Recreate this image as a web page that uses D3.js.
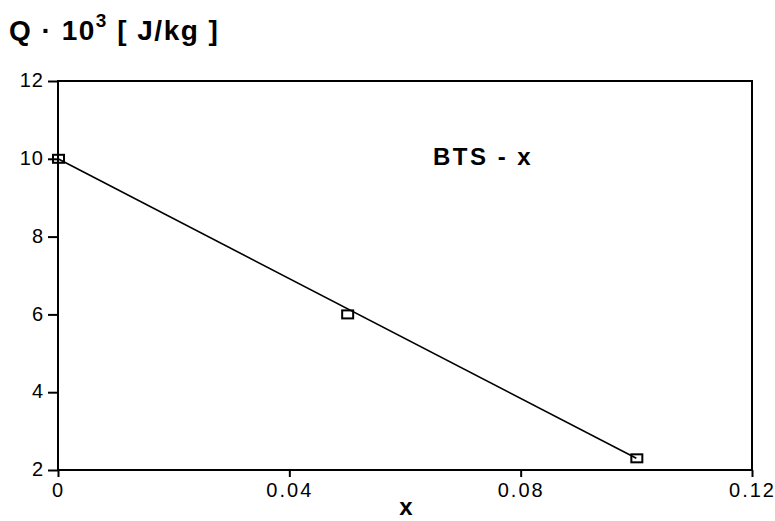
<!DOCTYPE html>
<html>
<head>
<meta charset="utf-8">
<script src="https://cdn.jsdelivr.net/npm/d3@7"></script>
<style>
  body { margin: 0; background: #fff; }
  text { font-family: "Liberation Sans", Arial, sans-serif; fill: #000; }
</style>
</head>
<body>
<svg id="chart" width="775" height="521"></svg>
<script>
'use strict';

// measured points
var xValues = [0, 0.05, 0.1];
var qValues = [10, 6, 2.3];

// straight fit line drawn through the points
var fitX = [0, 0.1];
var fitQ = [10, 2.3];

var xTicks = [0, 0.04, 0.08, 0.12];
var yTicks = [2, 4, 6, 8, 10, 12];

var svg = d3.select('#chart');

var plotLeft = 58, plotRight = 752, plotTop = 81, plotBottom = 470;

var x = d3.scaleLinear().domain([0, 0.12]).range([plotLeft, plotRight]);
var y = d3.scaleLinear().domain([2, 12]).range([plotBottom, plotTop]);

//Frame
svg.append('rect')
  .attr('x', plotLeft).attr('y', plotTop)
  .attr('width', plotRight - plotLeft).attr('height', plotBottom - plotTop)
  .attr('fill', 'none').attr('stroke', '#000').attr('stroke-width', 2);

//Axes
var xAxis = d3.axisBottom(x).tickValues(xTicks).tickSize(7).tickPadding(6)
  .tickFormat(function(d){ return d === 0 ? '0' : d3.format('.2f')(d); });
var gx = svg.append('g').attr('transform', 'translate(0,' + plotBottom + ')').call(xAxis);

var yAxis = d3.axisLeft(y).tickValues(yTicks).tickSize(10).tickPadding(4)
  .tickFormat(d3.format('d'));
var gy = svg.append('g').attr('transform', 'translate(' + plotLeft + ',0)').call(yAxis);

[gx, gy].forEach(function(g){
  g.select('.domain').remove();
  g.selectAll('line').attr('stroke', '#000').attr('stroke-width', 2);
  g.selectAll('text').attr('font-size', 20)
    .style('font-family', '"Liberation Sans", Arial, sans-serif');
});
gx.selectAll('text').style('letter-spacing', '2px');
gy.selectAll('text').attr('dy', '0.28em').style('letter-spacing', '1px');

//Fit line
var line = d3.line()
  .x(function(d){ return x(d[0]); })
  .y(function(d){ return y(d[1]); });

svg.append('path')
  .datum(d3.zip(fitX, fitQ))
  .attr('d', line)
  .attr('fill', 'none').attr('stroke', '#000').attr('stroke-width', 1.6);

//Square markers
svg.selectAll('.pt')
  .data(d3.zip(xValues, qValues))
  .enter().append('rect')
  .attr('class', 'pt')
  .attr('x', function(d){ return x(d[0]) - 5; })
  .attr('y', function(d){ return y(d[1]) - 4; })
  .attr('width', 11).attr('height', 8)
  .attr('fill', 'none').attr('stroke', '#000').attr('stroke-width', 2);

//Titles
var title = svg.append('text')
  .attr('x', 9).attr('y', 40)
  .attr('font-size', 28).attr('font-weight', 'bold')
  .style('letter-spacing', '1.5px');
title.append('tspan').text('Q \u00b7 10');
title.append('tspan').attr('font-size', 19).attr('dy', -13).text('3');
title.append('tspan').attr('dy', 13).text(' [ J/kg ]');

svg.append('text')
  .attr('x', 433).attr('y', 165)
  .attr('font-size', 24).attr('font-weight', 'bold')
  .style('letter-spacing', '2.5px')
  .text('BTS - x');

svg.append('text')
  .attr('x', 406).attr('y', 515)
  .attr('text-anchor', 'middle')
  .attr('font-size', 24).attr('font-weight', 'bold')
  .text('x');
</script>
</body>
</html>
